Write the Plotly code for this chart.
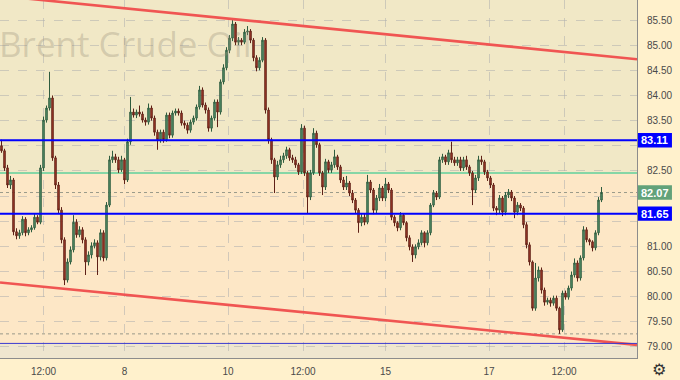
import plotly.graph_objects as go

# ---------------- data ----------------
opens = [
    83.00, 82.90, 82.56, 82.22, 82.32, 81.29, 81.21, 81.27, 81.54, 81.27,
    81.33, 81.37, 81.58, 81.48, 82.56, 83.51, 83.75, 83.95, 82.76, 82.22,
    81.72, 81.13, 80.33, 80.69, 80.93, 81.48, 81.23, 81.33, 81.13, 80.69,
    80.83, 81.01, 81.07, 80.79, 81.27, 80.77, 81.82, 82.72, 82.78, 82.72,
    82.52, 82.72, 82.32, 83.08, 83.67, 83.61, 83.67, 83.63, 83.51, 83.47,
    83.75, 83.55, 83.27, 83.12, 83.27, 83.12, 83.61, 83.21, 83.65, 83.69,
    83.65, 83.45, 83.41, 83.31, 83.47, 83.55, 83.77, 84.11, 83.81, 83.71,
    83.35, 83.55, 83.87, 83.67, 84.27, 84.55, 84.90, 85.14, 85.42, 85.06,
    85.10, 85.06, 85.26, 85.28, 85.10, 84.75, 84.55, 84.70, 85.10, 83.71,
    83.12, 82.72, 82.38, 82.62, 82.72, 82.80, 82.92, 82.76, 82.72, 82.62,
    82.48, 83.35, 82.46, 81.98, 82.46, 83.25, 83.02, 82.46, 82.18, 82.68,
    82.52, 82.62, 82.78, 82.58, 82.32, 82.18, 82.26, 82.06, 81.92, 81.72,
    81.47, 81.58, 81.48, 82.28, 82.12, 81.72, 81.96, 82.16, 81.96, 82.24,
    82.12, 81.58, 81.47, 81.37, 81.62, 81.47, 81.17, 80.99, 80.83, 80.99,
    81.07, 81.27, 81.07, 81.27, 81.82, 82.06, 81.98, 82.72, 82.78, 82.68,
    82.86, 82.72, 82.66, 82.72, 82.56, 82.72, 82.58, 82.46, 82.12, 82.36,
    82.72, 82.68, 82.48, 82.36, 82.22, 81.76, 81.72, 81.96, 81.68, 82.02,
    82.08, 81.96, 81.68, 81.82, 81.76, 81.43, 81.03, 80.69, 79.77, 80.37,
    80.53, 80.13, 79.89, 79.93, 79.87, 79.97, 79.77, 79.34, 80.07, 79.99,
    80.17, 80.43, 80.67, 80.37, 80.77, 81.33, 81.13, 81.09, 80.97, 81.27,
    81.92,
]
highs = [
    83.12, 82.94, 82.62, 82.40, 82.36, 81.36, 81.33, 81.60, 81.58, 81.38,
    81.42, 81.64, 81.62, 82.62, 83.58, 83.80, 84.47, 84.00, 82.80, 82.28,
    81.78, 81.18, 80.76, 81.00, 81.62, 81.54, 81.40, 81.38, 81.18, 80.90,
    81.08, 81.14, 81.12, 81.34, 81.32, 81.88, 82.80, 82.90, 82.84, 82.78,
    82.80, 82.76, 83.14, 83.97, 83.74, 83.72, 83.80, 83.68, 83.56, 83.84,
    83.80, 83.60, 83.32, 83.32, 83.32, 83.66, 83.66, 83.70, 83.74, 83.74,
    83.70, 83.50, 83.46, 83.52, 83.60, 83.82, 84.19, 84.16, 83.86, 83.76,
    83.60, 83.92, 83.92, 84.32, 84.62, 84.96, 85.20, 85.50, 85.46, 85.16,
    85.14, 85.32, 85.38, 85.32, 85.14, 84.80, 84.76, 85.16, 85.14, 83.76,
    83.16, 82.76, 82.70, 82.80, 82.86, 82.98, 82.96, 82.82, 82.78, 82.66,
    83.43, 83.40, 82.50, 82.52, 83.35, 83.30, 83.06, 82.50, 82.74, 82.72,
    82.68, 82.92, 82.82, 82.62, 82.38, 82.40, 82.30, 82.12, 81.96, 81.76,
    81.64, 81.66, 82.42, 82.32, 82.16, 82.02, 82.24, 82.20, 82.36, 82.28,
    82.16, 81.62, 81.50, 81.68, 81.66, 81.50, 81.22, 81.04, 81.04, 81.14,
    81.32, 81.30, 81.32, 81.86, 82.12, 82.10, 82.78, 82.84, 82.82, 82.92,
    83.08, 82.78, 82.78, 82.78, 82.78, 82.80, 82.62, 82.50, 82.42, 82.80,
    82.80, 82.72, 82.52, 82.40, 82.26, 81.80, 82.02, 82.00, 82.08, 82.14,
    82.12, 82.00, 81.88, 81.86, 81.80, 81.48, 81.08, 80.72, 80.67, 80.60,
    80.58, 80.18, 79.98, 79.98, 80.02, 80.02, 79.80, 80.12, 80.12, 80.22,
    80.50, 80.76, 80.72, 80.82, 81.40, 81.38, 81.16, 81.12, 81.32, 81.98,
    82.18,
]
lows = [
    82.86, 82.50, 82.16, 82.14, 81.22, 81.14, 81.15, 81.22, 81.20, 81.22,
    81.28, 81.33, 81.44, 81.44, 82.50, 83.46, 83.70, 82.70, 82.14, 81.66,
    81.06, 80.23, 80.28, 80.64, 80.88, 81.17, 81.18, 81.06, 80.43, 80.62,
    80.76, 80.96, 80.43, 80.72, 80.70, 80.72, 81.78, 82.66, 82.66, 82.46,
    82.48, 82.24, 82.28, 83.02, 83.56, 83.55, 83.58, 83.46, 83.40, 83.42,
    83.50, 83.20, 82.92, 83.06, 83.06, 83.08, 83.15, 83.16, 83.60, 83.60,
    83.40, 83.34, 83.24, 83.26, 83.42, 83.50, 83.72, 83.76, 83.64, 83.28,
    83.28, 83.50, 83.37, 83.62, 84.22, 84.50, 84.84, 85.08, 85.00, 85.00,
    85.00, 85.02, 85.20, 85.04, 84.68, 84.48, 84.50, 84.66, 83.64, 83.04,
    82.64, 82.06, 82.32, 82.56, 82.66, 82.74, 82.70, 82.66, 82.56, 82.42,
    82.44, 82.40, 81.66, 81.92, 82.42, 82.96, 82.40, 82.02, 82.12, 82.46,
    82.46, 82.56, 82.52, 82.26, 82.12, 82.12, 82.00, 81.86, 81.66, 81.27,
    81.40, 81.42, 81.44, 82.06, 81.64, 81.66, 81.90, 81.90, 81.90, 82.06,
    81.52, 81.40, 81.30, 81.32, 81.42, 81.10, 80.92, 80.69, 80.76, 80.94,
    81.02, 80.98, 81.02, 81.22, 81.78, 81.92, 81.94, 82.66, 82.62, 82.62,
    82.66, 82.60, 82.60, 82.50, 82.50, 82.52, 82.40, 81.82, 82.06, 82.30,
    82.62, 82.42, 82.30, 82.16, 81.70, 81.62, 81.66, 81.60, 81.62, 81.96,
    81.90, 81.56, 81.62, 81.70, 81.36, 80.96, 80.62, 79.72, 79.72, 80.30,
    80.06, 79.82, 79.84, 79.80, 79.82, 79.72, 79.26, 79.30, 79.94, 79.94,
    80.12, 80.38, 80.30, 80.32, 80.72, 81.08, 81.02, 80.90, 80.92, 81.22,
    81.88,
]
closes = [
    82.90, 82.56, 82.22, 82.32, 81.29, 81.21, 81.27, 81.54, 81.27, 81.33,
    81.37, 81.58, 81.48, 82.56, 83.51, 83.75, 83.95, 82.76, 82.22, 81.72,
    81.13, 80.33, 80.69, 80.93, 81.48, 81.23, 81.33, 81.13, 80.69, 80.83,
    81.01, 81.07, 80.79, 81.27, 80.77, 81.82, 82.72, 82.78, 82.72, 82.52,
    82.72, 82.32, 83.08, 83.67, 83.61, 83.67, 83.63, 83.51, 83.47, 83.75,
    83.55, 83.27, 83.12, 83.27, 83.12, 83.61, 83.21, 83.65, 83.69, 83.65,
    83.45, 83.41, 83.31, 83.47, 83.55, 83.77, 84.11, 83.81, 83.71, 83.35,
    83.55, 83.87, 83.67, 84.27, 84.55, 84.90, 85.14, 85.42, 85.06, 85.10,
    85.06, 85.26, 85.28, 85.10, 84.75, 84.55, 84.70, 85.10, 83.71, 83.12,
    82.72, 82.38, 82.62, 82.72, 82.80, 82.92, 82.76, 82.72, 82.62, 82.48,
    83.35, 82.46, 81.98, 82.46, 83.25, 83.02, 82.46, 82.18, 82.68, 82.52,
    82.62, 82.78, 82.58, 82.32, 82.18, 82.26, 82.06, 81.92, 81.72, 81.47,
    81.58, 81.48, 82.28, 82.12, 81.72, 81.96, 82.16, 81.96, 82.24, 82.12,
    81.58, 81.47, 81.37, 81.62, 81.47, 81.17, 80.99, 80.83, 80.99, 81.07,
    81.27, 81.07, 81.27, 81.82, 82.06, 81.98, 82.72, 82.78, 82.68, 82.86,
    82.72, 82.66, 82.72, 82.56, 82.72, 82.58, 82.46, 82.12, 82.36, 82.72,
    82.68, 82.48, 82.36, 82.22, 81.76, 81.72, 81.96, 81.68, 82.02, 82.08,
    81.96, 81.68, 81.82, 81.76, 81.43, 81.03, 80.69, 79.77, 80.37, 80.53,
    80.13, 79.89, 79.93, 79.87, 79.97, 79.77, 79.34, 80.07, 79.99, 80.17,
    80.43, 80.67, 80.37, 80.77, 81.33, 81.13, 81.09, 80.97, 81.27, 81.92,
    82.07,
]
bars = list(range(len(closes)))

tick_bars = [14, 41, 75.5, 100.5, 128, 162.5, 187.5]
tick_labels = ["12:00", "8", "10", "12:00", "15", "17", "12:00"]

price_ticks = [79.0, 79.5, 80.0, 80.5, 81.0, 81.5, 82.0, 82.5, 83.0, 83.5, 84.0, 84.5, 85.0, 85.5]
hidden_ticks = [81.5, 82.0, 83.0]   # covered by the price badges

trend_upper = [85.98, 84.72]       # price at left / right edge
trend_lower = [80.28, 79.04]
blue_levels = [83.11, 81.65]
green_level = 82.46
last_price = 82.07
dotted_low = 79.26
floor_level = 79.07

title_text = "Brent Crude Oil"

# ---------------- layout constants ----------------
X_RANGE = [-0.5, 211.83]
Y_RANGE = [78.78, 85.898]
W, H = 680, 380
ML, MR, MT, MB = 0, 43, 0, 22
PLOT_W = W - ML - MR
PLOT_H = H - MT - MB

C_UPPER = "#F1E8C6"
C_LOWER = "#FDE7C6"
C_BOTTOM = "#EFE6CF"
C_AXIS = "#FFF1CC"
GRID = "rgba(175,175,175,0.55)"

fig = go.Figure()

# trend lines (red)
for vals in (trend_upper, trend_lower):
    fig.add_trace(go.Scatter(
        x=X_RANGE, y=vals, mode="lines",
        line=dict(color="#F05552", width=2.6),
        hoverinfo="skip", showlegend=False, cliponaxis=True,
    ))

fig.add_trace(go.Candlestick(
    x=bars, open=opens, high=highs, low=lows, close=closes,
    increasing=dict(fillcolor="#5E9C74", line=dict(color="#2E5C3E", width=1)),
    decreasing=dict(fillcolor="#B4412F", line=dict(color="#5E2016", width=1)),
    whiskerwidth=0, showlegend=False, hoverinfo="skip",
))

shapes = []
# background bands
shapes.append(dict(type="rect", xref="paper", yref="y", x0=0, x1=1,
                   y0=green_level, y1=Y_RANGE[1], fillcolor=C_UPPER,
                   line=dict(width=0), layer="below"))
shapes.append(dict(type="rect", xref="paper", yref="y", x0=0, x1=1,
                   y0=Y_RANGE[0], y1=floor_level, fillcolor=C_BOTTOM,
                   line=dict(width=0), layer="below"))
# green level
shapes.append(dict(type="line", xref="paper", yref="y", x0=0, x1=1,
                   y0=green_level, y1=green_level,
                   line=dict(color="#86D6A6", width=2), layer="between"))
# dotted lines
shapes.append(dict(type="line", xref="paper", yref="y", x0=0, x1=1,
                   y0=last_price, y1=last_price,
                   line=dict(color="#9A9A8A", width=1, dash="dot"), layer="between"))
shapes.append(dict(type="line", xref="paper", yref="y", x0=0, x1=1,
                   y0=dotted_low, y1=dotted_low,
                   line=dict(color="#9A9A8A", width=1, dash="dot"), layer="between"))
# thin blue floor
shapes.append(dict(type="line", xref="paper", yref="y", x0=0, x1=1,
                   y0=floor_level, y1=floor_level,
                   line=dict(color="#3A3AD0", width=1), layer="above"))
# blue levels
for lv in blue_levels:
    shapes.append(dict(type="line", xref="paper", yref="y", x0=0, x1=1,
                       y0=lv, y1=lv, line=dict(color="#0000FF", width=2),
                       layer="above"))

# price badges
badge_w = 34 / PLOT_W
badge_h = 7.2 / (PLOT_H / (Y_RANGE[1] - Y_RANGE[0]))
annotations = []
badges = [(blue_levels[0], "#0000FF"), (blue_levels[1], "#0000FF"), (last_price, "#62A27A")]
for lv, col in badges:
    shapes.append(dict(type="rect", xref="paper", yref="y",
                       x0=1.0015, x1=1.0015 + badge_w, y0=lv - badge_h, y1=lv + badge_h,
                       fillcolor=col, line=dict(width=0), layer="above"))
    annotations.append(dict(xref="paper", yref="y", x=1.0015 + badge_w / 2, y=lv,
                            text=f"<b>{lv:.2f}</b>", showarrow=False,
                            xanchor="center", yanchor="middle",
                            font=dict(color="white", size=11, family="Liberation Sans")))

# watermark
annotations.append(dict(xref="paper", yref="paper", x=-0.004, y=1 - 44 / PLOT_H,
                        text=title_text, showarrow=False, xanchor="left", yanchor="middle",
                        font=dict(size=35, color="rgba(150,140,118,0.33)", family="Open Sans")))
# settings icon
annotations.append(dict(xref="paper", yref="paper", x=1 + 22 / PLOT_W, y=-11 / PLOT_H,
                        text="⚙", showarrow=False, xanchor="center", yanchor="middle",
                        font=dict(size=16, color="#333333", family="DejaVu Sans")))

fig.update_layout(
    width=W, height=H,
    margin=dict(l=ML, r=MR, t=MT, b=MB),
    paper_bgcolor=C_AXIS, plot_bgcolor=C_LOWER,
    shapes=shapes, annotations=annotations,
    xaxis=dict(range=X_RANGE, tickvals=tick_bars, ticktext=tick_labels,
               showgrid=True, gridcolor=GRID, griddash="dash", gridwidth=1,
               zeroline=False, showline=True, linecolor="#8C8C8C", linewidth=1,
               ticks="", ticklabelstandoff=4, rangeslider=dict(visible=False),
               tickfont=dict(size=10, color="#4A4A4A", family="Liberation Sans"),
               fixedrange=True),
    yaxis=dict(range=Y_RANGE, side="right", tickvals=price_ticks,
               ticktext=["" if v in hidden_ticks else f"{v:.2f}" for v in price_ticks],
               showgrid=True, gridcolor=GRID, griddash="dash", gridwidth=1,
               zeroline=False, showline=True, linecolor="#8C8C8C", linewidth=1,
               ticks="", ticklabelstandoff=7,
               tickfont=dict(size=10, color="#4A4A4A", family="Liberation Sans"),
               fixedrange=True),
    showlegend=False,
)

fig.write_html("out.html")
